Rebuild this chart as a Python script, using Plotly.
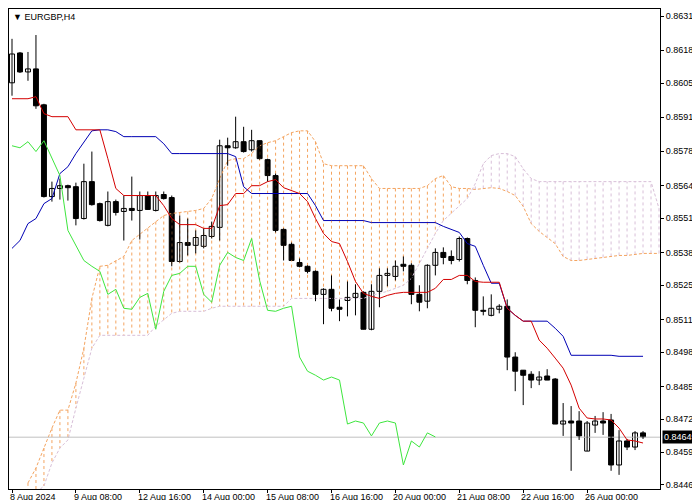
import plotly.graph_objects as go

# ---- data (EURGBP H4) ----
opens = [0.86051,0.86169,0.86094,0.86106,0.85964,0.85601,0.85633,0.85644,0.85640,0.85514,
         0.85660,0.85573,0.85487,0.85581,0.85542,0.85554,0.85546,0.85605,0.85546,0.85609,
         0.85597,0.85344,0.85419,0.85408,0.85404,0.85443,0.85479,0.85802,0.85794,0.85818,
         0.85786,0.85822,0.85747,0.85684,0.85471,0.85412,0.85340,0.85325,0.85305,0.85214,
         0.85234,0.85163,0.85190,0.85202,0.85222,0.85076,0.85226,0.85289,0.85285,0.85333,
         0.85329,0.85214,0.85187,0.85329,0.85380,0.85364,0.85352,0.85435,0.85269,0.85151,
         0.85131,0.85155,0.85167,0.84966,0.84914,0.84898,0.84875,0.84891,0.84879,0.84701,
         0.84713,0.84713,0.84594,0.84697,0.84713,0.84717,0.84539,0.84634,0.84610,0.84666]
highs = [0.86225,0.86173,0.86173,0.86240,0.85968,0.85660,0.85672,0.85648,0.85656,0.85731,
         0.85779,0.85577,0.85621,0.85589,0.85605,0.85680,0.85621,0.85621,0.85621,0.85621,
         0.85605,0.85526,0.85514,0.85467,0.85475,0.85502,0.85826,0.85834,0.85917,0.85877,
         0.85865,0.85822,0.85751,0.85692,0.85475,0.85419,0.85356,0.85329,0.85309,0.85238,
         0.85289,0.85194,0.85265,0.85254,0.85226,0.85254,0.85317,0.85317,0.85348,0.85364,
         0.85337,0.85250,0.85333,0.85396,0.85400,0.85388,0.85443,0.85439,0.85281,0.85206,
         0.85214,0.85175,0.85194,0.84985,0.84914,0.84910,0.84910,0.84918,0.84883,0.84784,
         0.84772,0.84752,0.84713,0.84733,0.84748,0.84741,0.84677,0.84642,0.84673,0.84673]
lows  = [0.86000,0.86090,0.86059,0.85948,0.85597,0.85581,0.85589,0.85585,0.85487,0.85510,
         0.85565,0.85502,0.85483,0.85526,0.85427,0.85506,0.85431,0.85550,0.85542,0.85589,
         0.85325,0.85340,0.85368,0.85376,0.85396,0.85435,0.85427,0.85723,0.85790,0.85775,
         0.85779,0.85747,0.85660,0.85459,0.85348,0.85348,0.85321,0.85297,0.85187,0.85096,
         0.85147,0.85108,0.85127,0.85131,0.85076,0.85072,0.85163,0.85246,0.85269,0.85305,
         0.85175,0.85147,0.85159,0.85289,0.85333,0.85333,0.85344,0.85254,0.85084,0.85131,
         0.85127,0.85139,0.84914,0.84831,0.84776,0.84843,0.84855,0.84875,0.84701,0.84654,
         0.84516,0.84638,0.84594,0.84666,0.84658,0.84516,0.84500,0.84598,0.84598,0.84642]
closes = [0.86165,0.86094,0.86106,0.85960,0.85601,0.85633,0.85644,0.85636,0.85514,0.85660,
          0.85569,0.85506,0.85581,0.85538,0.85554,0.85546,0.85605,0.85550,0.85605,0.85593,
          0.85344,0.85419,0.85408,0.85439,0.85447,0.85483,0.85802,0.85794,0.85818,0.85779,
          0.85822,0.85751,0.85684,0.85467,0.85408,0.85348,0.85325,0.85305,0.85214,0.85234,
          0.85159,0.85155,0.85202,0.85218,0.85076,0.85226,0.85289,0.85297,0.85325,0.85325,
          0.85214,0.85183,0.85329,0.85380,0.85360,0.85348,0.85435,0.85269,0.85151,0.85147,
          0.85159,0.85167,0.84966,0.84910,0.84894,0.84875,0.84887,0.84875,0.84701,0.84713,
          0.84705,0.84654,0.84705,0.84713,0.84705,0.84539,0.84634,0.84610,0.84666,0.84650]
tenkan = [0.85988,0.85988,0.85988,0.85996,0.85929,0.85917,0.85917,0.85917,0.85865,0.85865,
          0.85865,0.85865,0.85751,0.85633,0.85605,0.85605,0.85605,0.85605,0.85605,0.85565,
          0.85514,0.85490,0.85490,0.85490,0.85475,0.85475,0.85565,0.85569,0.85613,0.85613,
          0.85644,0.85644,0.85660,0.85668,0.85636,0.85625,0.85613,0.85581,0.85514,0.85455,
          0.85423,0.85415,0.85344,0.85265,0.85218,0.85206,0.85198,0.85210,0.85218,0.85222,
          0.85222,0.85222,0.85222,0.85238,0.85273,0.85273,0.85289,0.85289,0.85265,0.85262,
          0.85262,0.85262,0.85159,0.85131,0.85108,0.85108,0.85033,0.85001,0.84962,0.84922,
          0.84855,0.84764,0.84725,0.84721,0.84721,0.84717,0.84685,0.84638,0.84634,0.84626]
kijun = [0.85396,0.85427,0.85494,0.85514,0.85573,0.85593,0.85692,0.85719,0.85771,0.85818,
         0.85861,0.85865,0.85865,0.85858,0.85838,0.85838,0.85838,0.85838,0.85838,0.85810,
         0.85771,0.85771,0.85771,0.85771,0.85771,0.85771,0.85771,0.85771,0.85759,0.85640,
         0.85613,0.85613,0.85613,0.85613,0.85613,0.85613,0.85613,0.85613,0.85565,0.85506,
         0.85506,0.85506,0.85506,0.85506,0.85506,0.85498,0.85498,0.85498,0.85498,0.85498,
         0.85498,0.85498,0.85498,0.85498,0.85483,0.85471,0.85459,0.85415,0.85404,0.85329,
         0.85258,0.85258,0.85159,0.85131,0.85108,0.85108,0.85108,0.85108,0.85080,0.85048,
         0.84973,0.84973,0.84973,0.84973,0.84973,0.84973,0.84969,0.84969,0.84969,0.84969]
# Senkou spans, from bar 2 to bar 81 (shifted forward)
span_a = [0.84468,0.84527,0.84606,0.84685,0.84756,0.84756,0.84863,0.85001,0.85198,0.85325,
          0.85329,0.85348,0.85364,0.85427,0.85451,0.85475,0.85502,0.85526,0.85534,0.85538,
          0.85542,0.85546,0.85554,0.85593,0.85672,0.85743,0.85751,0.85751,0.85771,0.85802,
          0.85814,0.85822,0.85838,0.85854,0.85861,0.85861,0.85818,0.85731,0.85723,0.85723,
          0.85723,0.85723,0.85723,0.85672,0.85633,0.85633,0.85633,0.85633,0.85633,0.85633,
          0.85644,0.85672,0.85684,0.85640,0.85633,0.85633,0.85629,0.85633,0.85636,0.85633,
          0.85621,0.85605,0.85562,0.85494,0.85463,0.85439,0.85415,0.85364,0.85348,0.85348,
          0.85352,0.85356,0.85360,0.85364,0.85368,0.85368,0.85372,0.85376,0.85376,0.85376]
span_b = [0.84409,0.84429,0.84456,0.84547,0.84606,0.84638,0.84764,0.84883,0.85001,0.85052,
          0.85052,0.85052,0.85052,0.85052,0.85052,0.85052,0.85088,0.85112,0.85139,0.85147,
          0.85147,0.85147,0.85147,0.85159,0.85167,0.85167,0.85167,0.85167,0.85167,0.85167,
          0.85167,0.85167,0.85167,0.85198,0.85198,0.85198,0.85198,0.85198,0.85198,0.85198,
          0.85198,0.85198,0.85198,0.85210,0.85218,0.85226,0.85238,0.85250,0.85277,0.85337,
          0.85396,0.85455,0.85506,0.85534,0.85565,0.85593,0.85652,0.85731,0.85763,0.85771,
          0.85771,0.85759,0.85711,0.85672,0.85660,0.85660,0.85660,0.85660,0.85660,0.85660,
          0.85660,0.85660,0.85660,0.85660,0.85660,0.85660,0.85660,0.85660,0.85660,0.85554]
span_start = 2
chikou_shift = 26
last_price = 0.84649
tick_labels = ["8 Aug 2024", "9 Aug 08:00", "12 Aug 16:00", "14 Aug 00:00", "15 Aug 08:00",
               "16 Aug 16:00", "20 Aug 00:00", "21 Aug 08:00", "22 Aug 16:00", "26 Aug 00:00"]
tick_bars = [0, 8, 16, 24, 32, 40, 48, 56, 64, 72]
price_ticks = [0.86315,0.86180,0.86050,0.85915,0.85780,0.85645,0.85515,0.85380,0.85250,
               0.85115,0.84985,0.84850,0.84720,0.84590,0.84460]

n = len(closes)
xb = list(range(n))
xs = list(range(span_start, span_start + len(span_a)))
XMIN, XMAX = -0.375, 81.125

fig = go.Figure()

# cloud hatching
up_x, up_y, dn_x, dn_y = [], [], [], []
for x, a, b in zip(xs, span_a, span_b):
    if a >= b:
        up_x += [x, x, None]; up_y += [a, b, None]
    else:
        dn_x += [x, x, None]; dn_y += [a, b, None]
fig.add_trace(go.Scatter(x=up_x, y=up_y, mode="lines",
                         line=dict(color="#f4a460", width=1, dash="3px,3px"), hoverinfo="skip"))
fig.add_trace(go.Scatter(x=dn_x, y=dn_y, mode="lines",
                         line=dict(color="#d8bfd8", width=1, dash="3px,3px"), hoverinfo="skip"))
fig.add_trace(go.Scatter(x=xs, y=span_a, mode="lines",
                         line=dict(color="#f4a460", width=1, dash="3px,2px")))
fig.add_trace(go.Scatter(x=xs, y=span_b, mode="lines",
                         line=dict(color="#d8bfd8", width=1, dash="3px,2px")))

# last price line
fig.add_trace(go.Scatter(x=[XMIN, XMAX], y=[last_price, last_price], mode="lines",
                         line=dict(color="#c0c0c0", width=1)))

# candles: wicks + bodies
wx, wy = [], []
for i in xb:
    wx += [i, i, None]; wy += [lows[i], highs[i], None]
fig.add_trace(go.Scatter(x=wx, y=wy, mode="lines", line=dict(color="black", width=1)))
body_base = [min(o, c) for o, c in zip(opens, closes)]
body_h = [max(abs(c - o), 0.00002) for o, c in zip(opens, closes)]
body_col = ["white" if c >= o else "black" for o, c in zip(opens, closes)]
fig.add_trace(go.Bar(x=xb, y=body_h, base=body_base, width=0.62,
                     marker=dict(color=body_col, line=dict(color="black", width=1))))

# lines
fig.add_trace(go.Scatter(x=xb, y=kijun, mode="lines", line=dict(color="#0000b4", width=1)))
fig.add_trace(go.Scatter(x=xb, y=tenkan, mode="lines", line=dict(color="#d40000", width=1)))
fig.add_trace(go.Scatter(x=xb[:n - chikou_shift], y=closes[chikou_shift:], mode="lines",
                         line=dict(color="#3ee63e", width=1)))

fig.update_layout(
    width=700, height=500, showlegend=False,
    plot_bgcolor="white", paper_bgcolor="white",
    margin=dict(l=1, r=48, t=1, b=19),
    font=dict(family="Liberation Sans", size=9, color="black"),
    xaxis=dict(range=[XMIN, XMAX],
               tickvals=tick_bars, ticktext=[""] * len(tick_bars),
               ticks="outside", ticklen=3, tickcolor="black",
               showgrid=False, zeroline=False, showline=True, linecolor="black", mirror=True),
    yaxis=dict(range=[0.84444, 0.86343], side="right", tickvals=price_ticks,
               ticktext=[f"{v:.5f}" for v in price_ticks], tickfont=dict(size=9),
               ticks="outside", ticklen=3, tickcolor="black", automargin=False,
               showgrid=False, zeroline=False, showline=True, linecolor="black", mirror=True),
)
for b, t in zip(tick_bars, tick_labels):
    fig.add_annotation(x=(b - XMIN) / (XMAX - XMIN), y=0, xref="paper", yref="paper",
                       yanchor="top", xanchor="left", text=t, showarrow=False,
                       font=dict(size=9), yshift=-1, xshift=-4)
fig.add_annotation(x=0.003, y=0.997, xref="paper", yref="paper", xanchor="left", yanchor="top",
                   text="▼ EURGBP,H4", showarrow=False, font=dict(size=9))
fig.add_annotation(x=1, y=last_price, xref="paper", yref="y", xanchor="left",
                   text=f"{last_price:.5f}", showarrow=False, bgcolor="black",
                   font=dict(color="white", size=9), xshift=2, borderpad=1)

fig.write_html("out.html")
